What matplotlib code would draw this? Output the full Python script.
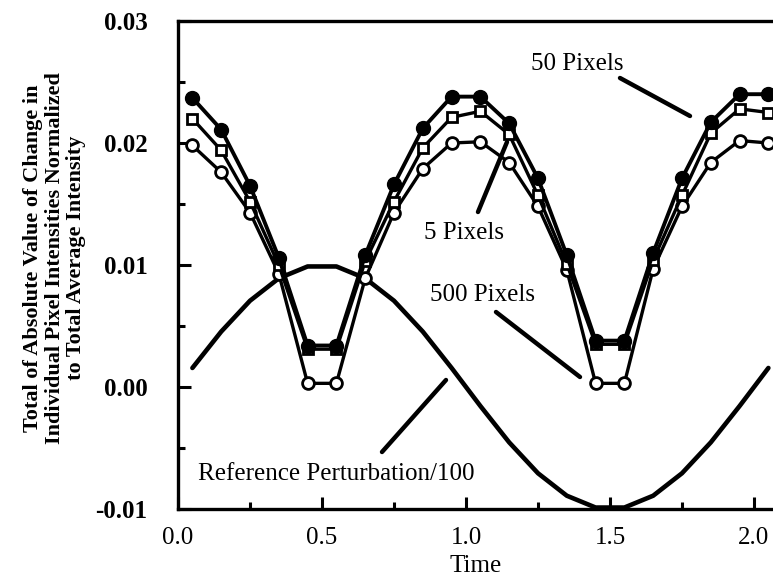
import matplotlib
matplotlib.use("Agg")
import matplotlib.pyplot as plt
from matplotlib.ticker import MultipleLocator, FormatStrFormatter

# ---- data ----
time = [0.05, 0.15, 0.25, 0.35, 0.45, 0.55, 0.65, 0.75, 0.85, 0.95, 1.05,
        1.15, 1.25, 1.35, 1.45, 1.55, 1.65, 1.75, 1.85, 1.95, 2.05]
pixels_50 = [0.0237, 0.0211, 0.0165, 0.0106, 0.0034, 0.0034, 0.0108, 0.0166,
             0.0212, 0.0238, 0.0238, 0.0216, 0.0171, 0.0108, 0.0038, 0.0038,
             0.0110, 0.0171, 0.0217, 0.0240, 0.0240]
pixels_5 = [0.0220, 0.0194, 0.0152, 0.0100, 0.0031, 0.0031, 0.0103, 0.0152,
            0.0196, 0.0221, 0.0226, 0.0207, 0.0157, 0.0101, 0.0035, 0.0035,
            0.0104, 0.0157, 0.0208, 0.0228, 0.0225]
pixels_500 = [0.0198, 0.0176, 0.0143, 0.0093, 0.0003, 0.0003, 0.0089, 0.0143,
              0.0179, 0.0200, 0.0201, 0.0184, 0.0148, 0.0096, 0.0003, 0.0003,
              0.0097, 0.0148, 0.0184, 0.0202, 0.0200]
reference = [0.00156, 0.00454, 0.00707, 0.00891, 0.00988, 0.00988, 0.00891,
             0.00707, 0.00454, 0.00156, -0.00156, -0.00454, -0.00707, -0.00891,
             -0.00988, -0.00988, -0.00891, -0.00707, -0.00454, -0.00156, 0.00156]

x_ticks = [0.0, 0.5, 1.0, 1.5, 2.0]
y_ticks = [-0.01, 0.00, 0.01, 0.02, 0.03]

plt.rcParams['font.family'] = ['Liberation Serif', 'DejaVu Serif']

fig = plt.figure(figsize=(7.73, 5.81), dpi=100)
ax = fig.add_axes([178 / 773, 1 - 509 / 581, 1 - 178 / 773, (509 - 21) / 581])

# reference perturbation
ax.plot(time, reference, color='black', lw=3.3, solid_joinstyle='round',
        solid_capstyle='round', zorder=2)

# data series
ax.plot(time, pixels_500, color='black', lw=2.4, marker='o', ms=8.5,
        mfc='white', mec='black', mew=2.0, zorder=3, clip_on=False)
ax.plot(time, pixels_5, color='black', lw=2.4, marker='s', ms=7.5,
        mfc='white', mec='black', mew=2.0, zorder=4, clip_on=False)
ax.plot(time, pixels_50, color='black', lw=2.8, marker='o', ms=10,
        mfc='black', mec='black', zorder=5, clip_on=False)

ax.set_xlim(0, 2.066)
ax.set_ylim(-0.01, 0.03)

ax.set_xticks(x_ticks)
ax.set_yticks(y_ticks)
ax.xaxis.set_minor_locator(MultipleLocator(0.25))
ax.yaxis.set_minor_locator(MultipleLocator(0.005))
ax.xaxis.set_major_formatter(FormatStrFormatter('%.1f'))
ax.yaxis.set_major_formatter(FormatStrFormatter('%.2f'))

ax.tick_params(axis='both', which='major', direction='in', length=9, width=2.2,
               top=False, right=False)
ax.tick_params(axis='both', which='minor', direction='in', length=5, width=2.2,
               top=False, right=False)
ax.tick_params(axis='x', which='major', labelsize=18, pad=13)
ax.tick_params(axis='y', which='major', labelsize=18, pad=22)
for lab in ax.get_yticklabels():
    lab.set_fontweight('bold')

for side in ['left', 'bottom', 'top']:
    ax.spines[side].set_linewidth(2.4)
ax.spines['right'].set_visible(False)

ax.set_xlabel('Time', fontsize=18)
ax.xaxis.set_label_coords(0.5, -(566 - 509) / 488, transform=ax.transAxes)
ax.xaxis.label.set_va('center')

fig.text(55 / 773, 1 - 258 / 581,
         'Total of Absolute Value of Change in\n'
         'Individual Pixel Intensities Normalized\n'
         'to Total Average Intensity',
         rotation=90, ha='center', va='center', multialignment='center',
         fontsize=16, fontweight='bold', linespacing=1.1)

def d(px, py):
    return ((px - 178) / 288.0, (387 - py) / 12200.0)

ann_kw = dict(fontsize=18, ha='center', va='center')
line_kw = dict(arrowstyle='-', color='black', lw=3.2, shrinkA=0, shrinkB=0)

ax.text(*d(577, 64), '50 Pixels', **ann_kw)
ax.annotate('', xy=d(690, 116), xytext=d(620, 78), arrowprops=line_kw)

ax.text(*d(464, 233), '5 Pixels', **ann_kw)
ax.annotate('', xy=d(507, 142), xytext=d(478, 212), arrowprops=line_kw)

ax.text(*d(483, 295), '500 Pixels', **ann_kw)
ax.annotate('', xy=d(580, 377), xytext=d(496, 312), arrowprops=line_kw)

ax.text(*d(336, 474), 'Reference Perturbation/100', **ann_kw)
ax.annotate('', xy=d(446, 380), xytext=d(382, 452), arrowprops=line_kw)

fig.savefig('out.png', dpi=100)
